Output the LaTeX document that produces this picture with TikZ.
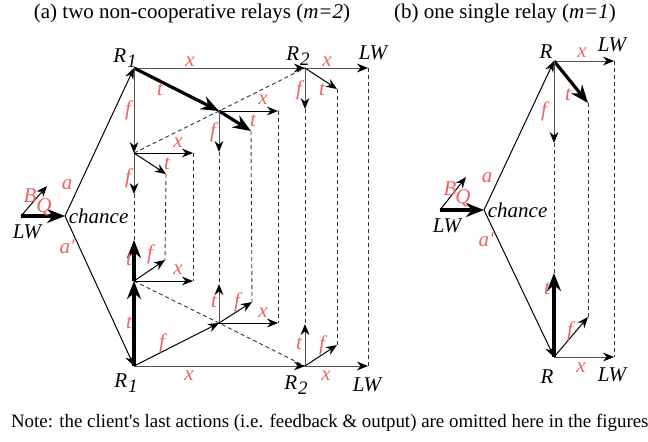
\documentclass[tikz,border=0pt]{standalone}
\usepackage{fontspec}
\setmainfont{Liberation Serif}
\usetikzlibrary{arrows.meta}
\definecolor{labred}{RGB}{238,98,98}
\newcommand\idx[2]{#1\kern0.5pt\raisebox{-0.45ex}{\fontsize{9.5}{10}\selectfont #2}}

\begin{document}
\begin{tikzpicture}[x=0.5pt, y=-0.5pt,
    font=\fontsize{10.5}{12}\selectfont,
    lab/.style={text=labred, font=\fontsize{10.5}{12}\selectfont\itshape, inner sep=0pt},
    who/.style={font=\fontsize{10.5}{12}\selectfont\itshape, inner sep=0pt},
    act/.style={-{Stealth[length=5.5pt, width=4.4pt, color=black]}, line width=0.5pt},
    gact/.style={act, draw=black!68},
    bigact/.style={-{Stealth[length=9pt, width=7pt]}, line width=1.6pt},
    trace/.style={dash pattern=on 2pt off 1.5pt, line width=0.45pt, draw=black!80}]

    \useasboundingbox (0,0) rectangle (648,441);

    % titles and note
    \node (tita) at (192,13) {(a) two non-cooperative relays (\textit{m=2})} ;
    \node (titb) at (505,13) {(b) one single relay (\textit{m=1})} ;
    \node [anchor=west, font=\fontsize{9.45}{11}\selectfont] (note) at (4,423) {Note: the client\textquotesingle s last actions (i.e. feedback \& output) are omitted here in the figures} ;

    % (a) points
    \coordinate (lwa) at (21,216);
    \coordinate (cha) at (65,216);
    \coordinate (ba) at (47,186);
    \coordinate (r1t) at (134,68);
    \coordinate (r2t) at (305,68);
    \coordinate (lwt) at (368,68);
    \coordinate (mt) at (219,111);
    \coordinate (tt) at (251,131);
    \coordinate (f1) at (134,153);
    \coordinate (x1) at (193,153);
    \coordinate (t1) at (166,174);
    \coordinate (f11) at (134,194);
    \coordinate (mx) at (278,111);
    \coordinate (mf) at (219,152);
    \coordinate (r2f) at (305,109);
    \coordinate (r2x) at (337,89);
    \coordinate (r1b) at (134,366);
    \coordinate (b1) at (134,281);
    \coordinate (b11) at (134,240);
    \coordinate (b1f) at (165,260);
    \coordinate (b1x) at (193,281);
    \coordinate (mb) at (219,323);
    \coordinate (mbt) at (219,284);
    \coordinate (mbf) at (252,302);
    \coordinate (mbx) at (278,323);
    \coordinate (r2b) at (305,366);
    \coordinate (r2bt) at (305,324);
    \coordinate (r2bf) at (337,345);
    \coordinate (lwb) at (368,366);

    % (a) traces
    \draw [trace] (f1) -- (mt) -- (r2t);
    \draw [trace] (b1) -- (mb) -- (r2b);
    \foreach \a/\b in {f11/b11, t1/b1f, x1/b1x, mf/mbt, tt/mbf, mx/mbx, r2f/r2bt, r2x/r2bf, lwt/lwb}
        \draw [trace] (\a) -- (\b);

    % (a) moves
    \draw [act] (lwa) -- (ba);
    \draw [bigact] (lwa) -- (cha);
    \draw [act] (cha) -- (r1t);
    \draw [act] (cha) -- (r1b);
    \draw [gact] (r1t) -- (r2t);
    \draw [gact] (r2t) -- (lwt);
    \draw [bigact] (r1t) -- (mt);
    \draw [bigact] (mt) -- (tt);
    \draw [gact] (r1t) -- (f1);
    \draw [gact] (f1) -- (f11);
    \draw [act] (f1) -- (x1);
    \draw [act] (f1) -- (t1);
    \draw [act] (mt) -- (mx);
    \draw [gact] (mt) -- (mf);
    \draw [gact] (r2t) -- (r2f);
    \draw [act] (r2t) -- (r2x);
    \draw [gact] (r1b) -- (r2b);
    \draw [gact] (r2b) -- (lwb);
    \draw [bigact] (r1b) -- (b1);
    \draw [bigact] (b1) -- (b11);
    \draw [act] (b1) -- (b1f);
    \draw [act] (b1) -- (b1x);
    \draw [act] (r1b) -- (mb);
    \draw [gact] (mb) -- (mbt);
    \draw [act] (mb) -- (mbf);
    \draw [act] (mb) -- (mbx);
    \draw [gact] (r2b) -- (r2bt);
    \draw [act] (r2b) -- (r2bf);

    % (a) labels
    \node [who, anchor=west] (chancea) at (cha) {\,chance} ;
    \node [who] (lwal) at (27,232) {LW} ;
    \node [lab] (bal) at (30,196) {B} ;
    \node [lab] (qal) at (44,207) {Q} ;
    \node [lab] (aal) at (67,185) {a} ;
    \node [lab] (apal) at (67,247) {a\textquotesingle} ;
    \node [who] (r1tl) at (125,58) {\idx{R}{1}} ;
    \node [who] (r2tl) at (298,56) {\idx{R}{2}} ;
    \node [who] (lwtl) at (373,53) {LW} ;
    \node [who] (r1bl) at (126,383) {\idx{R}{1}} ;
    \node [who] (r2bl) at (296,385) {\idx{R}{2}} ;
    \node [who] (lwbl) at (367,385) {LW} ;
    \foreach \x/\y/\s in {190/62/x, 327/62/x, 160/90/t, 253/121/t, 128/110/f, 178/143/x, 167/164/t,
        128/178/f, 263/100/x, 213/132/f, 299/90/f, 322/90/t, 129/323/t, 129/260/t, 150/254/f,
        178/270/x, 214/302/t, 237/302/f, 263/313/x, 162/343/f, 189/376/x, 299/344/t, 322/345/f, 326/376/x}
        \node [lab] at (\x,\y) {\s} ;

    % (b) points
    \coordinate (lwc) at (440,210);
    \coordinate (chb) at (484,210);
    \coordinate (bc) at (466,177);
    \coordinate (rt) at (554,61);
    \coordinate (rtx) at (614,61);
    \coordinate (rtt) at (588,103);
    \coordinate (rtf) at (554,143);
    \coordinate (rb) at (554,357);
    \coordinate (rbt) at (554,273);
    \coordinate (rbf) at (588,317);
    \coordinate (rbx) at (614,357);

    % (b) traces and moves
    \draw [trace] (rtf) -- (rbt);
    \draw [trace] (rtt) -- (rbf);
    \draw [trace] (rtx) -- (rbx);
    \draw [act] (lwc) -- (bc);
    \draw [bigact] (lwc) -- (chb);
    \draw [act] (chb) -- (rt);
    \draw [act] (chb) -- (rb);
    \draw [gact] (rt) -- (rtx);
    \draw [bigact] (rt) -- (rtt);
    \draw [gact] (rt) -- (rtf);
    \draw [gact] (rb) -- (rbx);
    \draw [bigact] (rb) -- (rbt);
    \draw [act] (rb) -- (rbf);

    % (b) labels
    \node [who, anchor=west] (chanceb) at (chb) {\,chance} ;
    \node [who] (lwcl) at (447,226) {LW} ;
    \node [lab] (bcl) at (450,189) {B} ;
    \node [lab] (qcl) at (463,198) {Q} ;
    \node [lab] (acl) at (487,178) {a} ;
    \node [lab] (apcl) at (486,240) {a\textquotesingle} ;
    \node [who] (rtl) at (546,52) {R} ;
    \node [who] (rbl) at (547,377) {R} ;
    \node [who] (lwrt) at (612,45) {LW} ;
    \node [who] (lwrb) at (612,375) {LW} ;
    \foreach \x/\y/\s in {582/53/x, 568/95/t, 544/111/f, 547/289/t, 570/331/f, 581/368/x}
        \node [lab] at (\x,\y) {\s} ;
\end{tikzpicture}
\end{document}
